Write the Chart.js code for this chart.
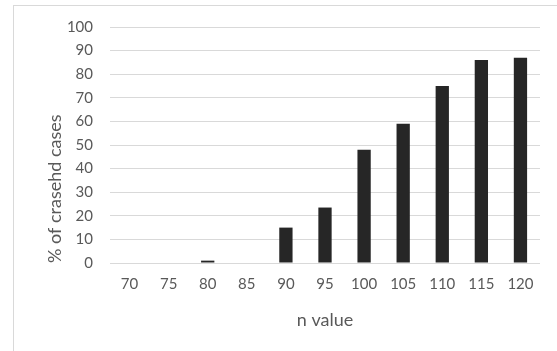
<!DOCTYPE html>
<html>
<head>
<meta charset="utf-8">
<script src="https://cdn.jsdelivr.net/npm/chart.js@4"></script>
<style>
  body { margin: 0; background: white; }
  #frame { position: absolute; left: 13px; top: 5px; width: 556px; height: 351px; border: 1px solid #d9d9d9; box-sizing: border-box; }
  #wrap { position: absolute; left: 0; top: 0; width: 557px; height: 351px; }
</style>
</head>
<body>
<div id="frame"></div>
<div id="wrap"><canvas id="myChart"></canvas></div>
<script>
var nValues = ['70', '75', '80', '85', '90', '95', '100', '105', '110', '115', '120'];
var crashedPct = [0, 0, 1, 0, 15, 23.5, 48, 59, 75, 86, 87];

var textColor = '#595959';
var gridColor = '#d9d9d9';

const ctx = document.getElementById('myChart');

var myChart = new Chart(ctx, {
  type: 'bar',
  data: {
    labels: nValues,
    datasets: [{
      label: '% of crasehd cases',
      data: crashedPct,
      backgroundColor: '#262626',
      borderWidth: 0,
      categoryPercentage: 1,
      barPercentage: 0.34
    }]
  },
  options: {
    responsive: true,
    maintainAspectRatio: false,
    animation: false,
    layout: { padding: { top: 27, right: 17, bottom: 20, left: 44 } },
    plugins: {
      legend: { display: false },
      tooltip: { enabled: false }
    },
    scales: {
      x: {
        grid: { display: false, drawTicks: false },
        border: { display: false },
        ticks: { color: textColor, font: { family: 'Lato', size: 15 }, padding: 12, maxRotation: 0 },
        title: { display: true, text: 'n value', color: textColor, font: { family: 'Lato', size: 18 }, padding: { top: 6, bottom: 0 } },
        afterFit: function(scale) { scale.height = 68; }
      },
      y: {
        min: 0,
        max: 100,
        ticks: { stepSize: 10, color: textColor, font: { family: 'Lato', size: 15 }, padding: 17 },
        grid: { color: gridColor, drawTicks: false },
        border: { display: false },
        title: { display: true, text: '% of crasehd cases', align: 'start', color: textColor, font: { family: 'Lato', size: 18 }, padding: { top: 0, bottom: 4 } },
        afterFit: function(scale) { scale.width = 66; }
      }
    }
  }
});
</script>
</body>
</html>
